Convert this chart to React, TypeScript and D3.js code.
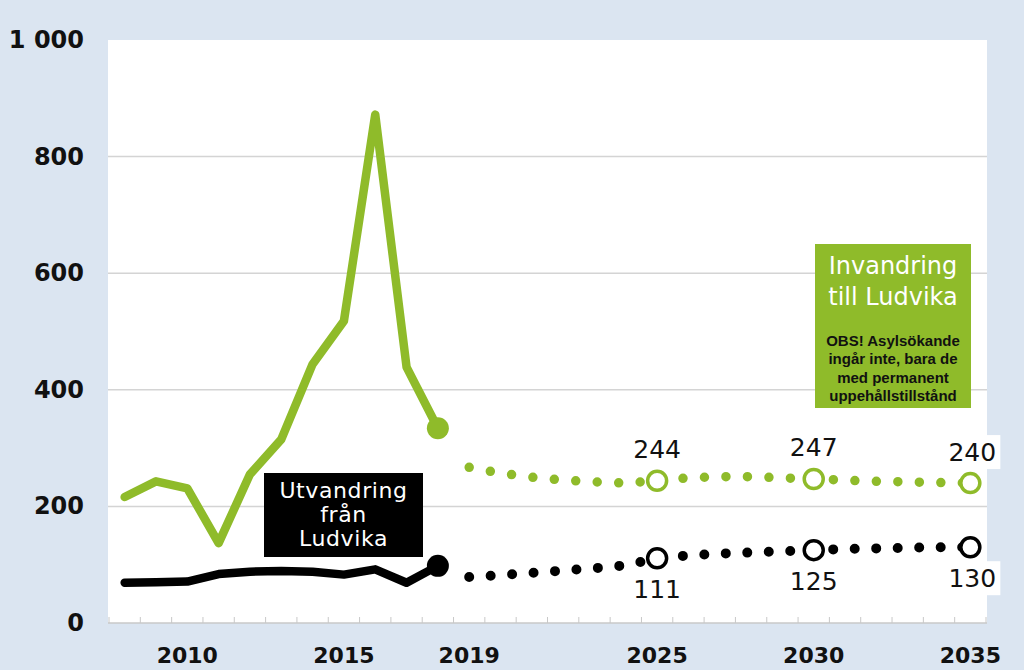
import React from 'react'
import * as d3 from 'd3'

// år på x-axeln
const years = d3.range(2008, 2036)
const shownYears = [2010, 2015, 2019, 2025, 2030, 2035]
const yTicks = [0, 200, 400, 600, 800, 1000]

// Invandring till Ludvika, utfall 2008–2018
const inHistYears = [2008, 2009, 2010, 2011, 2012, 2013, 2014, 2015, 2016, 2017, 2018]
const inHist = [216, 243, 231, 137, 255, 315, 444, 518, 872, 439, 334]
// prognos 2019–2035
const progYears = d3.range(2019, 2036)
const inProg = [267, 257, 250, 245, 242, 240, 244, 249, 251, 251, 249, 247, 245, 243, 242, 241, 240]

// Utvandring från Ludvika
const outHist = [69, 70, 71, 84, 88, 89, 88, 83, 92, 69, 98]
const outProg = [79, 82, 86, 90, 94, 99, 111, 116, 119, 121, 123, 125, 127, 128, 129, 130, 130]

// märkta prognosår
const markYears = [2025, 2030, 2035]

const GREEN = '#8fbb2a'
const BG = '#dbe5f1'
const fmt = (v: number) => (v >= 1000 ? d3.format(',')(v).replace(',', ' ') : String(v))

const App = () => {
  const width = 1024
  const height = 670
  const plot = { left: 108, right: 987, top: 40, bottom: 623 }

  const x = d3.scaleBand<number>().domain(years).range([plot.left + 1, plot.right - 1])
  const cx = (yr: number) => (x(yr) as number) + x.bandwidth() / 2
  const y = d3.scaleLinear().domain([0, 1000]).range([plot.bottom, plot.top])

  const line = d3
    .line<[number, number]>()
    .x((d) => cx(d[0]))
    .y((d) => y(d[1]))

  const zip = (ks: number[], vs: number[]) => ks.map((k, i) => [k, vs[i]] as [number, number])

  const inH = zip(inHistYears, inHist)
  const outH = zip(inHistYears, outHist)
  const inP = zip(progYears, inProg)
  const outP = zip(progYears, outProg)

  const valAt = (arr: number[], yr: number) => arr[progYears.indexOf(yr)]
  const boundaries = years.map((yr) => x(yr) as number).concat([plot.right - 1])

  return (
    <svg
      width={width}
      height={height}
      style={{ position: 'absolute', left: 0, top: 0 }}
      fontFamily="DejaVu Sans"
    >
      <rect width={width} height={height} fill={BG} />
      <rect
        x={plot.left}
        y={plot.top}
        width={plot.right - plot.left}
        height={plot.bottom - plot.top}
        fill="#fff"
      />

      {/* rutnät */}
      {yTicks.slice(1, -1).map((t) => (
        <line key={t} x1={plot.left} x2={plot.right} y1={y(t)} y2={y(t)} stroke="#d4d4d4" strokeWidth={1.5} />
      ))}
      <line x1={plot.left} x2={plot.right} y1={y(0)} y2={y(0)} stroke="#c8c8c8" strokeWidth={1.5} />
      {boundaries.map((b, i) => (
        <line key={i} x1={b} x2={b} y1={y(0)} y2={y(0) - 6} stroke="#c8c8c8" strokeWidth={1} />
      ))}

      {/* y-axel */}
      {yTicks.map((t) => (
        <text
          key={t}
          x={84}
          y={y(t)}
          textAnchor="end"
          dominantBaseline="central"
          fontSize={24}
          fontWeight="bold"
          fill="#111"
        >
          {fmt(t)}
        </text>
      ))}
      {/* x-axel */}
      {shownYears.map((yr) => (
        <text
          key={yr}
          x={cx(yr)}
          y={655}
          textAnchor="middle"
          dominantBaseline="central"
          fontSize={22}
          fontWeight="bold"
          fill="#111"
        >
          {yr}
        </text>
      ))}

      {/* utfall */}
      <path d={line(inH) ?? ''} fill="none" stroke={GREEN} strokeWidth={8.5} strokeLinejoin="round" strokeLinecap="round" />
      <circle cx={cx(2018)} cy={y(334)} r={11} fill={GREEN} />
      <path d={line(outH) ?? ''} fill="none" stroke="#000" strokeWidth={8.5} strokeLinejoin="round" strokeLinecap="round" />
      <circle cx={cx(2018)} cy={y(98)} r={11} fill="#000" />

      {/* prognos */}
      <path d={line(inP) ?? ''} fill="none" stroke={GREEN} strokeWidth={9.5} strokeDasharray="0 21.5" strokeLinecap="round" />
      <path d={line(outP) ?? ''} fill="none" stroke="#000" strokeWidth={10} strokeDasharray="0 21.5" strokeLinecap="round" />

      {markYears.map((yr) => (
        <g key={yr}>
          <circle cx={cx(yr)} cy={y(valAt(inProg, yr))} r={9.5} fill="#fff" stroke={GREEN} strokeWidth={3.5} />
          <circle cx={cx(yr)} cy={y(valAt(outProg, yr))} r={9.5} fill="#fff" stroke="#000" strokeWidth={3.5} />
        </g>
      ))}

      {/* värdeetiketter */}
      {markYears.map((yr) => {
        const vi = valAt(inProg, yr)
        const vo = valAt(outProg, yr)
        const last = yr === 2035
        return (
          <g key={yr}>
            {last && <rect x={cx(yr) - 24} y={y(vi) - 48} width={54} height={34} fill="#fff" />}
            <text x={cx(yr) + (last ? 2 : 0)} y={y(vi) - 31} textAnchor="middle" dominantBaseline="central" fontSize={25} fill="#111">
              {vi}
            </text>
            {last && <rect x={cx(yr) - 24} y={y(vo) + 14} width={54} height={34} fill="#fff" />}
            <text x={cx(yr) + (last ? 2 : 0)} y={y(vo) + 31} textAnchor="middle" dominantBaseline="central" fontSize={25} fill="#111">
              {vo}
            </text>
          </g>
        )
      })}

      {/* förklaringsrutor */}
      <rect x={264} y={473} width={159} height={84} fill="#000" />
      {['Utvandring', 'från', 'Ludvika'].map((s, i) => (
        <text key={s} x={343.5} y={490 + i * 24} textAnchor="middle" dominantBaseline="central" fontSize={22} letterSpacing={0.6} fill="#fff">
          {s}
        </text>
      ))}

      <rect x={815} y={244} width={156} height={164} fill={GREEN} />
      {['Invandring', 'till Ludvika'].map((s, i) => (
        <text key={s} x={893} y={266 + i * 31} textAnchor="middle" dominantBaseline="central" fontSize={24} fill="#fff">
          {s}
        </text>
      ))}
      {['OBS! Asylsökande', 'ingår inte, bara de', 'med permanent', 'uppehållstillstånd'].map((s, i) => (
        <text
          key={s}
          x={893}
          y={340 + i * 18.5}
          textAnchor="middle"
          dominantBaseline="central"
          fontSize={15}
          fontWeight="bold"
          fontFamily="Liberation Sans"
          fill="#111"
        >
          {s}
        </text>
      ))}
    </svg>
  )
}

export default App
